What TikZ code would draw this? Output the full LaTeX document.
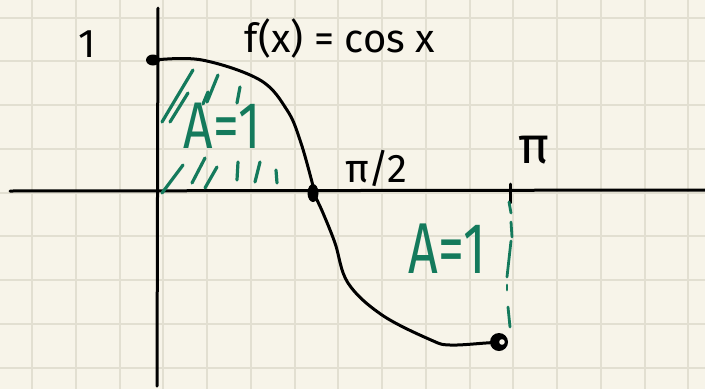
\documentclass[tikz,border=0pt]{standalone}
\usepackage{fontspec}
\setmainfont{Fira Sans}
\usetikzlibrary{arrows.meta,positioning}

\definecolor{paper}{RGB}{247,244,233}
\definecolor{gridline}{RGB}{226,223,209}
\definecolor{hatch}{RGB}{20,122,92}

\begin{document}
\begin{tikzpicture}[
  x=1pt, y=-1pt,
  axis/.style={line width=3pt, line cap=round},
  curve/.style={line width=3pt, line cap=round, line join=round},
  hatchline/.style={hatch, line width=3.2pt, line cap=round},
  lbl/.style={inner sep=0pt, font=\fontsize{40}{40}\selectfont},
  area/.style={inner sep=0pt, text=hatch, font=\fontsize{66}{66}\selectfont}
]
% paper and grid
\fill[paper] (0,0) rectangle (705,389);
\useasboundingbox (0,0) rectangle (705,389);
\foreach \i in {0,...,15}
  \draw[gridline, line width=2pt] ({32+43.75*\i},0) -- ({32+43.75*\i},389);
\foreach \j in {0,...,8}
  \draw[gridline, line width=2pt] (0,{17.5+43.75*\j}) -- (705,{17.5+43.75*\j});

% axes
\draw[axis] (10,191) -- (705,190);
\draw[axis] (158,8) -- (157,386);
\draw[axis] (510,184) -- (510,203);

% hatching of the first area
\foreach \a/\b/\c/\d in {162/122/193/70, 170/122/188/93, 207/102/218/75, 203/104/208/92,
    237/103/240/87, 162/193/183/165, 192/183/205/158, 205/188/217/167,
    237/180/238/162, 255/182/260/162, 277/183/276/170}
  \draw[hatchline] (\a,\b) -- (\c,\d);

% dashed edge of the second area
\foreach \a/\b/\c/\d in {509/202/511/213, 511/222/512/237, 511/241/507/277,
    507/285/507/290, 508/307/510/327}
  \draw[hatchline, line width=2.8pt] (\a,\b) -- (\c,\d);

% the cosine
\draw[curve] plot[smooth, tension=0.6] coordinates {(155,60) (202,60) (260,80) (287,110)
  (300,140) (312,182) (314,193) (323,213) (335,243) (348,283) (382,315) (431,340)
  (450,345) (486,343) (498,342)};
\fill (153,60) ellipse (7 and 5.5);
\fill (313,193) ellipse (5.5 and 9);
\fill (499,342) circle (9);
\fill[paper] (502,342) circle (2.8);

% labels
\node[lbl] (one) at (87,44) {1};
\node[lbl] (fx) at (340,38) {f(x) = cos x};
\node[lbl] (halfpi) at (376,168) {π/2};
\node[lbl, font=\fontsize{52}{52}\selectfont] (pi) at (534,150) {π};
\node[area] (atop) at (222,126) {\scalebox{0.78}[1]{A=1}};
\node[area, font=\fontsize{72}{72}\selectfont] (abot) at (447,249) {\scalebox{0.72}[1]{A=1}};
\end{tikzpicture}
\end{document}
